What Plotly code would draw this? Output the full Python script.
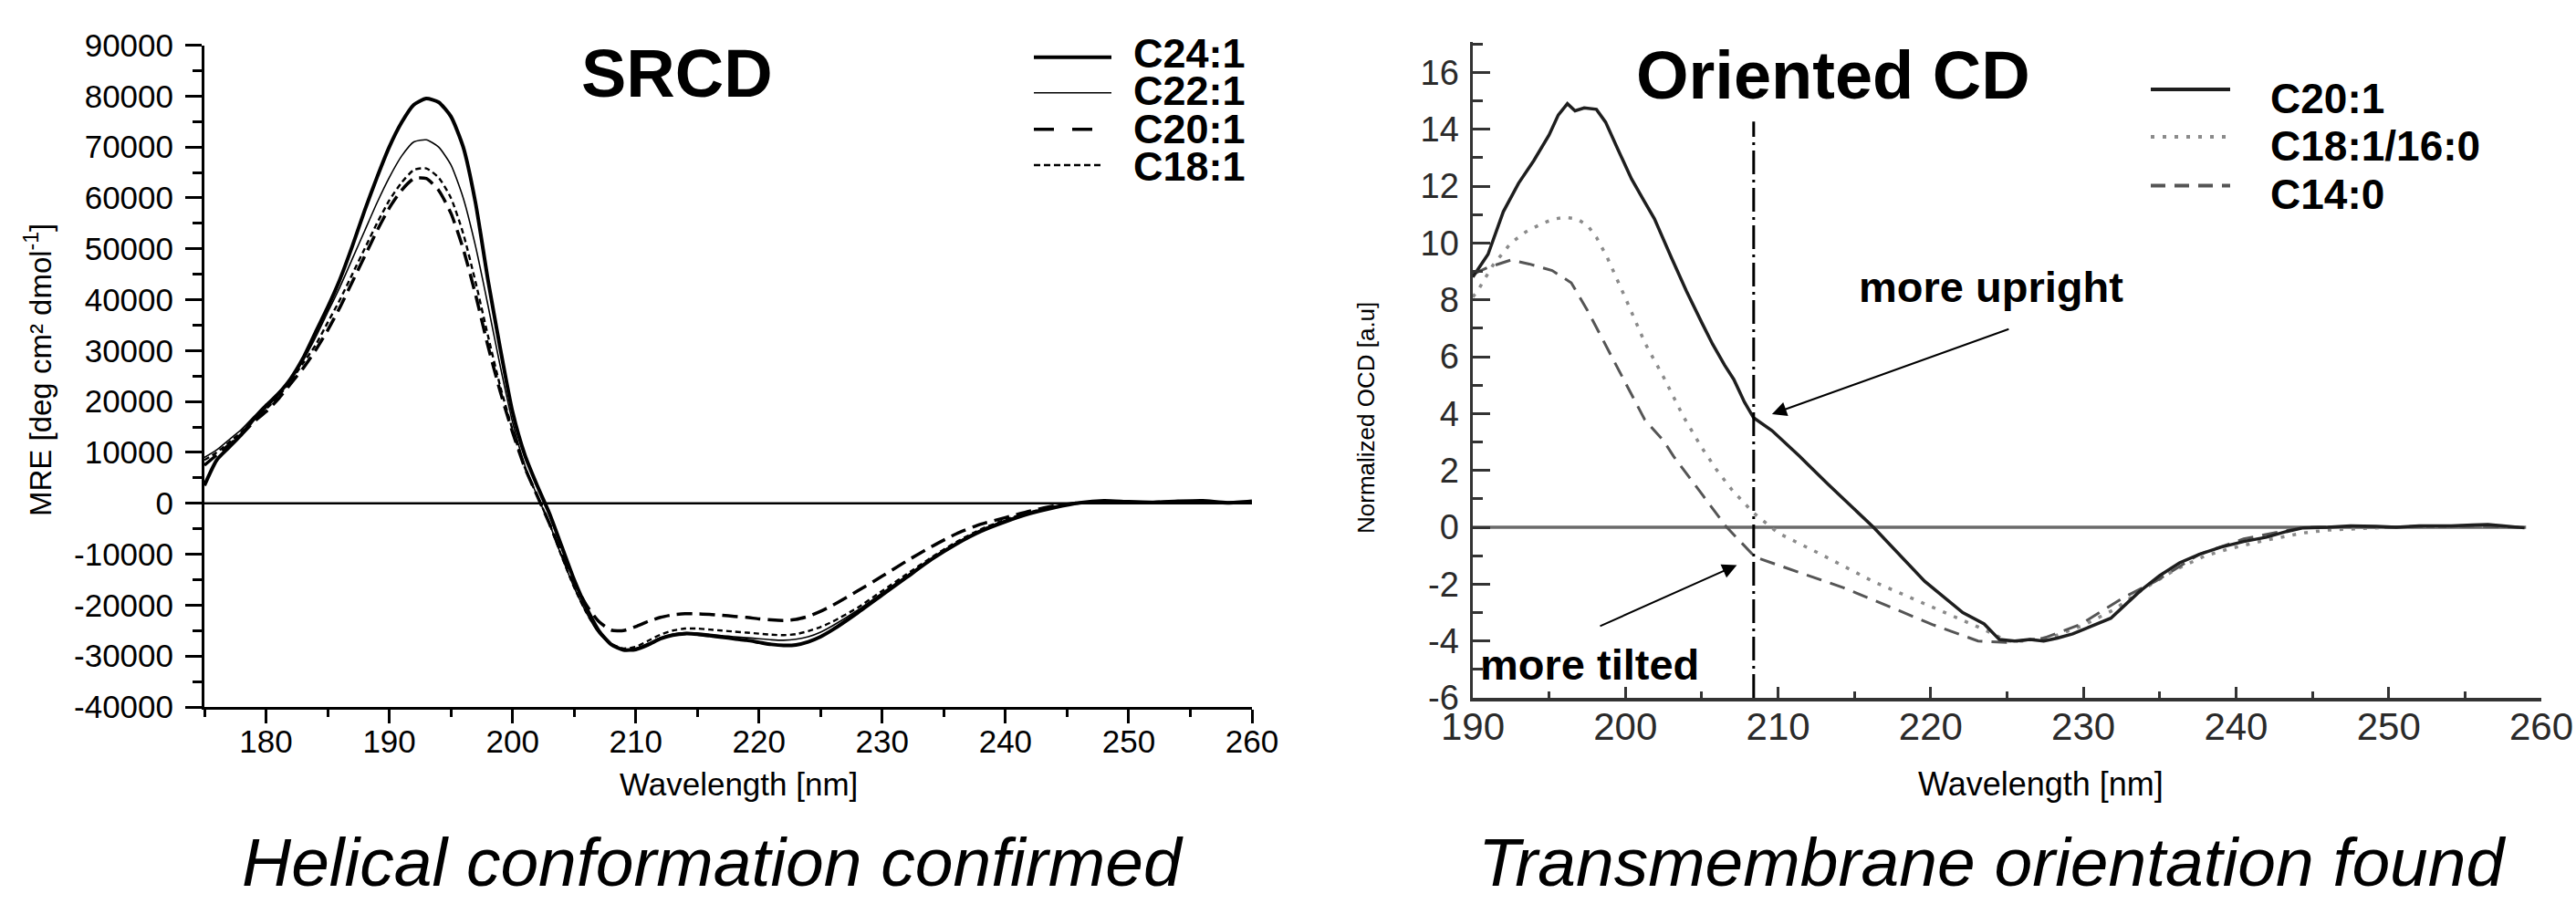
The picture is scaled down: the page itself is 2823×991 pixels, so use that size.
import plotly.graph_objects as go

W, H = 2823, 991

# ---------------- SRCD panel data ----------------
srcd_wl = [175, 176, 177, 178, 179, 180, 181, 182, 183, 184, 185, 186, 187, 188, 189,
           190, 191, 192, 193, 194, 195, 196, 197, 198, 199, 200, 201, 202, 203, 204,
           205, 206, 207, 208, 209, 210, 211, 212, 213, 214, 215, 216, 217, 218, 219,
           220, 221, 222, 223, 224, 225, 226, 228, 230, 232, 234, 236, 238, 240, 242,
           244, 246, 248, 250, 252, 254, 256, 258, 260]

c24_1 = [3500, 8500, 11000, 13500, 16500, 19000, 21500, 24500, 28500, 33500, 38500, 44000, 50500, 57500, 64000,
         70000, 74800, 78300, 79500, 78800, 76000, 70000, 59000, 44000, 30500, 18000, 9500, 3500, -2000, -8500,
         -15000, -20500, -25000, -27700, -28800, -28700, -27800, -26600, -25900, -25600, -25700, -26000, -26300, -26600, -26900,
         -27300, -27700, -27900, -27800, -27200, -26200, -24800, -21500, -18000, -14500, -11000, -8000, -5500, -3600, -2000,
         -800, 100, 500, 300, 200, 400, 500, 100, 400]

c22_1 = [9000, 10500, 12500, 14500, 17000, 19500, 21800, 24500, 28000, 32500, 37500, 42500, 48000, 53500, 59000,
         64000, 68200, 71000, 71400, 70000, 66500, 60000, 50500, 39000, 27000, 16000, 7500, 1500, -4000, -10500,
         -16500, -21500, -25500, -27800, -28700, -28500, -27500, -26400, -25700, -25400, -25500, -25700, -26000, -26200, -26400,
         -26600, -26800, -26900, -26700, -26200, -25300, -24000, -21000, -17600, -14200, -10800, -7800, -5200, -3300, -1800,
         -600, 100, 300, 300, 100, 300, 400, 200, 300]

c20_1 = [7500, 9500, 11500, 13500, 16000, 18000, 20500, 23500, 26500, 30000, 34000, 38500, 43500, 48500, 53500,
         58000, 61500, 63800, 63800, 61500, 57000, 50000, 41000, 31000, 22000, 14000, 7000, 1500, -4000, -10000,
         -15500, -20000, -23200, -24900, -25000, -24200, -23200, -22400, -21900, -21700, -21700, -21800, -22000, -22200, -22400,
         -22700, -22900, -23000, -22800, -22200, -21200, -20000, -17200, -14300, -11300, -8500, -6000, -4100, -2800, -1500,
         -500, 100, 300, 200, 100, 300, 300, 100, 200]

c18_1 = [8500, 10000, 12000, 14000, 16500, 18500, 21000, 24000, 27500, 31000, 35500, 40000, 45000, 50000, 55000,
         59500, 63000, 65500, 65800, 64000, 60000, 53000, 43500, 33000, 23000, 14500, 7000, 1500, -4000, -10500,
         -16500, -21500, -25300, -27600, -28500, -28200, -27000, -25800, -25000, -24600, -24600, -24800, -25000, -25200, -25400,
         -25600, -25800, -25900, -25700, -25100, -24300, -23200, -20500, -17200, -13900, -10600, -7600, -5100, -3200, -1700,
         -600, 0, 200, 100, 0, 100, 200, 0, 100]

srcd_yticks = [90000, 80000, 70000, 60000, 50000, 40000, 30000, 20000, 10000, 0,
               -10000, -20000, -30000, -40000]
srcd_xticks = [180, 190, 200, 210, 220, 230, 240, 250, 260]

# ---------------- Oriented CD panel data ----------------
ocd20_wl = [190, 191, 192, 193, 194, 195, 195.6, 196.2, 196.7, 197.3, 198.1, 198.7, 199.5, 200.4,
            201.2, 201.9, 203, 204, 205, 205.7, 206.5, 207.1, 207.8, 208.4, 209.6, 211.4, 213.3,
            216.25, 219.6, 222.1, 223.5, 224.5, 225.5, 226.5, 227.4, 228.3, 229.3, 230.5, 231.8,
            232.8, 233.7, 235, 236.3, 237.6, 239, 240.5, 242, 243.3, 244.4, 246, 247.5, 249.2,
            250.5, 252, 254.1, 255.5, 256.5, 257.5, 258.9]
ocd20 = [8.8, 9.6, 11.1, 12.1, 12.9, 13.8, 14.5, 14.9, 14.65, 14.75, 14.7, 14.25, 13.3, 12.25,
         11.5, 10.85, 9.5, 8.3, 7.2, 6.45, 5.7, 5.2, 4.4, 3.85, 3.4, 2.5, 1.5,
         0.0, -1.9, -3.0, -3.4, -3.95, -4.0, -3.95, -4.0, -3.9, -3.75, -3.5, -3.2,
         -2.7, -2.25, -1.7, -1.25, -0.95, -0.7, -0.5, -0.35, -0.15, -0.02, 0.0, 0.05, 0.03,
         0.0, 0.05, 0.05, 0.08, 0.1, 0.05, -0.02]

ocd18_wl = [190, 190.3, 191.3, 192.5, 193.5, 194.6, 195.4, 196.1, 196.8, 197.5, 198.1, 198.8,
            200.0, 201.3, 202.5, 203.8, 205, 206, 207, 208.4, 210, 212.8, 216.2, 220.1,
            223.5, 225, 226, 228, 230, 232, 234, 236, 238, 239.6, 242, 244.4, 246, 248,
            250, 252, 255, 258]
ocd18 = [8.1, 8.3, 9.2, 10.0, 10.4, 10.7, 10.85, 10.9, 10.85, 10.63, 10.2, 9.5,
         8.06, 6.46, 5.28, 3.89, 2.8, 2.0, 1.3, 0.5, -0.2, -0.95, -1.9, -2.8,
         -3.6, -4.0, -4.0, -3.85, -3.45, -2.9, -2.15, -1.5, -1.0, -0.75, -0.45, -0.2, -0.1, -0.05,
         0.0, 0.0, 0.05, 0.0]

ocd14_wl = [190, 191, 192.5, 193.7, 195.2, 196.45, 197.5, 198.75, 200.0, 201.27, 202.5,
            203.15, 205.1, 206.6, 208.5, 211.4, 214.3, 217.2, 220.1, 223.1, 225, 227.4,
            229.8, 232.7, 234.7, 237.6, 240.5, 244.4, 247, 250, 253, 256, 258.5]
ocd14 = [8.9, 9.14, 9.4, 9.26, 9.03, 8.6, 7.64, 6.35, 5.07, 3.78, 3.04,
         2.5, 1.1, 0.02, -1.05, -1.59, -2.13, -2.77, -3.42, -4.0, -4.05, -3.9,
         -3.42, -2.45, -1.91, -0.95, -0.41, 0.0, 0.02, 0.0, 0.05, 0.03, 0.0]

ocd_yticks = [-6, -4, -2, 0, 2, 4, 6, 8, 10, 12, 14, 16]
ocd_xticks = [190, 200, 210, 220, 230, 240, 250, 260]

marker_wl = 208.4          # dash-dot reference wavelength
marker_top = 14.27

FONT = "Liberation Sans, Arial, Helvetica, sans-serif"


def P(xp, yp):
    """pixel -> paper coordinates"""
    return xp / W, 1 - yp / H


fig = go.Figure()

# ---- SRCD traces ----
fig.add_trace(go.Scatter(x=srcd_wl, y=c24_1, mode="lines", name="C24:1",
                         line=dict(color="black", width=4, shape="spline", smoothing=0.6),
                         xaxis="x", yaxis="y"))
fig.add_trace(go.Scatter(x=srcd_wl, y=c22_1, mode="lines", name="C22:1",
                         line=dict(color="black", width=1.6, shape="spline", smoothing=0.6),
                         xaxis="x", yaxis="y"))
fig.add_trace(go.Scatter(x=srcd_wl, y=c20_1, mode="lines", name="C20:1",
                         line=dict(color="black", width=3.5, dash="17px,8px", shape="spline", smoothing=0.6),
                         xaxis="x", yaxis="y"))
fig.add_trace(go.Scatter(x=srcd_wl, y=c18_1, mode="lines", name="C18:1",
                         line=dict(color="black", width=2.4, dash="6px,4px", shape="spline", smoothing=0.6),
                         xaxis="x", yaxis="y"))

# ---- Oriented CD traces ----
fig.add_trace(go.Scatter(x=ocd18_wl, y=ocd18, mode="lines", name="C18:1/16:0",
                         line=dict(color="#8a8a8a", width=3.5, dash="4px,9px"),
                         xaxis="x2", yaxis="y2"))
fig.add_trace(go.Scatter(x=ocd14_wl, y=ocd14, mode="lines", name="C14:0",
                         line=dict(color="#555555", width=3, dash="17px,10px"),
                         xaxis="x2", yaxis="y2"))
fig.add_trace(go.Scatter(x=ocd20_wl, y=ocd20, mode="lines", name="C20:1",
                         line=dict(color="#1e1e1e", width=3.5),
                         xaxis="x2", yaxis="y2"))

x1d = [P(224, 0)[0], P(1372, 0)[0]]
y1d = [P(0, 775)[1], P(0, 49.5)[1]]
x2d = [P(1614, 0)[0], P(2785, 0)[0]]
y2d = [P(0, 765)[1], P(0, 46)[1]]

tickfont_l = dict(family=FONT, size=35, color="black")
fig.update_layout(
    template="none",
    width=W, height=H,
    margin=dict(l=0, r=0, t=0, b=0, pad=0, autoexpand=False),
    paper_bgcolor="white", plot_bgcolor="white",
    showlegend=False,
    xaxis=dict(domain=x1d, range=[175, 260], anchor="y", automargin=False,
               showline=True, linecolor="black", linewidth=3, mirror=False,
               showgrid=False, zeroline=False,
               tickmode="array", tickvals=srcd_xticks, ticktext=[str(v) for v in srcd_xticks],
               ticks="outside", ticklen=15, tickwidth=3, tickcolor="black",
               tickfont=tickfont_l, ticklabelstandoff=-10,
               minor=dict(tickmode="linear", tick0=0, dtick=5, ticks="outside",
                          ticklen=8, tickwidth=3, tickcolor="black")),
    yaxis=dict(domain=y1d, range=[-40000, 90000], anchor="x", automargin=False,
               showline=True, linecolor="black", linewidth=3,
               showgrid=False, zeroline=False,
               tickmode="array", tickvals=srcd_yticks,
               ticktext=[("-" if v < 0 else "") + str(abs(v)) for v in srcd_yticks],
               ticks="outside", ticklen=18, tickwidth=3, tickcolor="black",
               tickfont=tickfont_l, ticklabelstandoff=6,
               minor=dict(tickmode="linear", tick0=0, dtick=5000, ticks="outside",
                          ticklen=10, tickwidth=3, tickcolor="black")),
    xaxis2=dict(domain=x2d, range=[190, 260], anchor="y2", automargin=False,
                showline=True, linecolor="#333333", linewidth=3.5,
                showgrid=False, zeroline=False,
                tickmode="array", tickvals=ocd_xticks, ticktext=[str(v) for v in ocd_xticks],
                ticks="inside", ticklen=12, tickwidth=3, tickcolor="#333333",
                tickfont=dict(family=FONT, size=42, color="#2a2a2a"), ticklabelstandoff=-8,
                minor=dict(tickmode="linear", tick0=0, dtick=5, ticks="inside",
                           ticklen=7, tickwidth=3, tickcolor="#333333")),
    yaxis2=dict(domain=y2d, range=[-6, 17.07], anchor="x2", automargin=False,
                showline=True, linecolor="#333333", linewidth=3.5,
                showgrid=False, zeroline=False,
                tickmode="array", tickvals=ocd_yticks,
                ticktext=[("-" if v < 0 else "") + str(abs(v)) for v in ocd_yticks],
                ticks="inside", ticklen=19, tickwidth=3, tickcolor="#333333",
                tickfont=dict(family=FONT, size=38, color="#2a2a2a"), ticklabelstandoff=4,
                minor=dict(tickmode="linear", tick0=0, dtick=1, ticks="inside",
                           ticklen=11, tickwidth=3, tickcolor="#333333")),
)

shapes = []
# zero lines
shapes.append(dict(type="line", xref="x", yref="y", x0=175, x1=260, y0=0, y1=0,
                   line=dict(color="black", width=2.5), layer="below"))
shapes.append(dict(type="line", xref="x2", yref="y2", x0=190, x1=259, y0=0, y1=0,
                   line=dict(color="#6a6a6a", width=3.5), layer="below"))
# vertical dash-dot reference line
shapes.append(dict(type="line", xref="x2", yref="y2", x0=marker_wl, x1=marker_wl,
                   y0=-6, y1=marker_top,
                   line=dict(color="black", width=3, dash="26px,6px,3px,6px")))


def legend_line(x0, x1, y, color, width, dash=None):
    a0, b = P(x0, y)
    a1, _ = P(x1, y)
    ln = dict(color=color, width=width)
    if dash:
        ln["dash"] = dash
    shapes.append(dict(type="line", xref="paper", yref="paper",
                       x0=a0, x1=a1, y0=b, y1=b, line=ln))


# left legend lines
legend_line(1133, 1218, 62.7, "black", 4)
legend_line(1133, 1218, 101.7, "black", 1.6)
legend_line(1133, 1197, 141.7, "black", 3.5, "22px,20px")
legend_line(1133, 1210, 181, "black", 2.4, "7px,4px")
# right legend lines
legend_line(2357, 2444, 98, "#1e1e1e", 4)
legend_line(2357, 2444, 150, "#8a8a8a", 4, "4px,9px")
legend_line(2357, 2444, 203.5, "#555555", 4, "16px,10px")

fig.update_layout(shapes=shapes)

ann = []


def text(xp, yp, s, size, bold=False, italic=False, xanchor="center", color="black", angle=0):
    x, y = P(xp, yp)
    t = s
    if bold:
        t = "<b>" + t + "</b>"
    if italic:
        t = "<i>" + t + "</i>"
    ann.append(dict(xref="paper", yref="paper", x=x, y=y, text=t, showarrow=False,
                    xanchor=xanchor, yanchor="middle", textangle=angle,
                    font=dict(family=FONT, size=size, color=color)))


# titles
text(742, 81, "SRCD", 74, bold=True)
text(2009, 82, "Oriented CD", 74, bold=True)
# left legend labels
for lab, yy in zip(["C24:1", "C22:1", "C20:1", "C18:1"], [58, 100, 142, 183]):
    text(1240, yy, lab, 45, bold=True, xanchor="left")
# right legend labels
for lab, yy in zip(["C20:1", "C18:1/16:0", "C14:0"], [108, 160.5, 212.5]):
    text(2486, yy, lab, 46, bold=True, xanchor="left")
# axis titles
text(809, 859, "Wavelength [nm]", 35)
text(2236, 859, "Wavelength [nm]", 36)
text(42, 406, "MRE [deg cm² dmol<sup>-1</sup>]", 33, angle=-90)
text(1497, 458, "Normalized OCD [a.u]", 26, angle=-90)
# panel captions
text(781, 945, "Helical conformation confirmed", 75, italic=True)
text(2183, 945, "Transmembrane orientation found", 75, italic=True)
# annotations on the OCD panel
text(2182, 314, "more upright", 47, bold=True)
text(1742, 728, "more tilted", 47, bold=True)

# arrows (data coordinates of the OCD panel)
ann.append(dict(xref="x2", yref="y2", axref="x2", ayref="y2",
                x=209.6, y=3.98, ax=225.2, ay=6.99, text="", showarrow=True,
                arrowhead=2, arrowsize=1.6, arrowwidth=2, arrowcolor="black"))
ann.append(dict(xref="x2", yref="y2", axref="x2", ayref="y2",
                x=207.3, y=-1.33, ax=198.25, ay=-3.5, text="", showarrow=True,
                arrowhead=2, arrowsize=1.6, arrowwidth=2, arrowcolor="black"))

fig.update_layout(annotations=ann)

fig.write_html(
    "out.html",
    config={"displayModeBar": False, "staticPlot": True},
    post_script="document.body.style.margin='0px';document.body.style.padding='0px';"
                "document.documentElement.style.overflow='hidden';",
)
